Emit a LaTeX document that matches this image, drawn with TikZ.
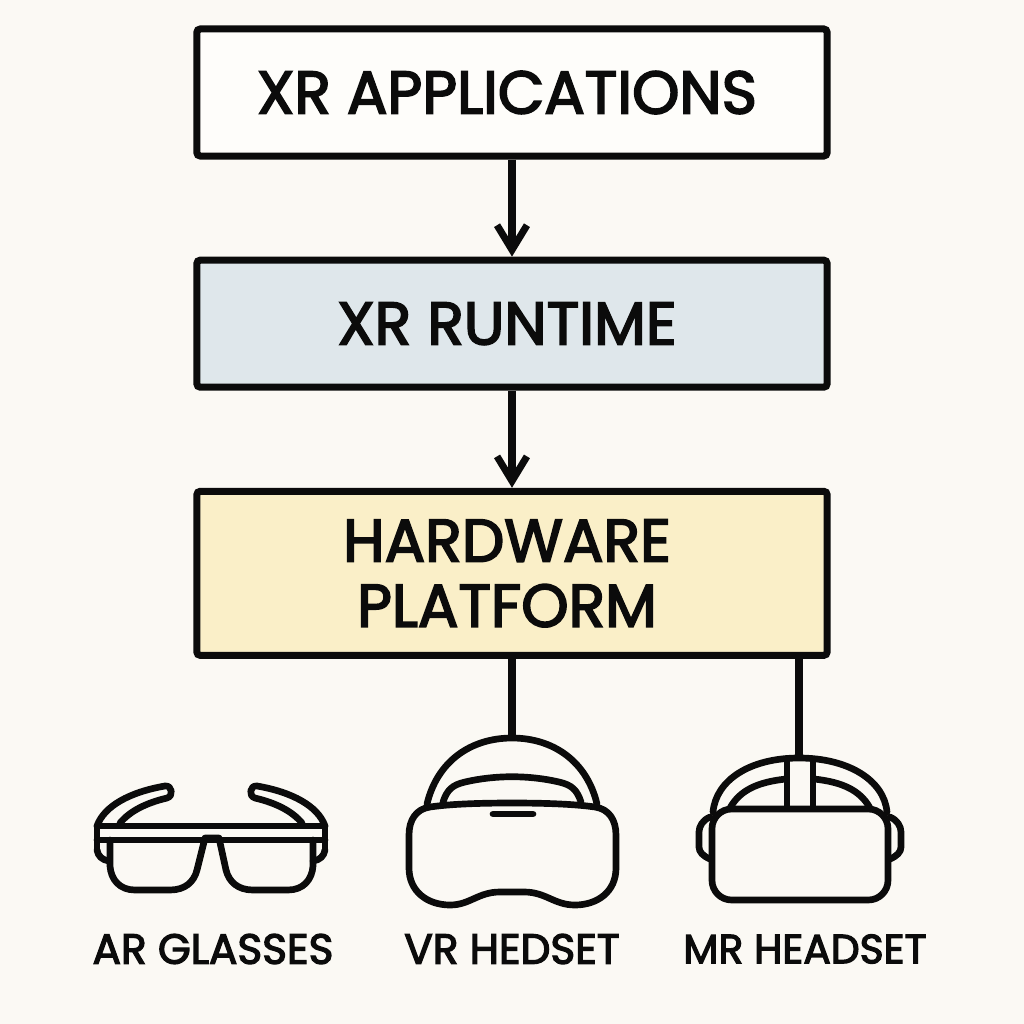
\documentclass[tikz,border=0pt]{standalone}
\usepackage{xcolor}
\usepackage{fontspec}
\setmainfont{Poppins}[FakeBold=3]
\usepackage{tikz}
\usetikzlibrary{arrows.meta, positioning}
\definecolor{paper}{HTML}{FBF9F4}
\definecolor{appfill}{HTML}{FEFDFA}
\definecolor{runfill}{HTML}{DFE7EB}
\definecolor{hwfill}{HTML}{FAEFC8}
\definecolor{ink}{HTML}{0B0B0B}
\newcommand{\nudge}{\hspace*{1mm}}

\begin{document}
\begin{tikzpicture}[
  x=0.01cm, y=-0.01cm,
  layer/.style={draw=ink, line width=2pt, rounded corners=1pt, minimum width=6.3cm, align=center, font=\fontsize{17.1}{18.5}\selectfont, text=ink, inner sep=0pt},
  flow/.style={draw=ink, line width=2pt, -{Straight Barb[length=7pt, width=8.5pt, line width=2pt]}},
  wire/.style={draw=ink, line width=2pt},
  icon/.style={draw=ink, line width=1.9pt, line cap=round, line join=round},
  tag/.style={font=\fontsize{12}{14}\selectfont, text=ink, inner sep=0pt}
]
  \fill[paper] (0,0) rectangle (1024,1024);
  \useasboundingbox (0,0) rectangle (1024,1024);

  \node[layer, fill=appfill, minimum height=1.27cm] (apps) at (512,92.5) {XR APPLICATIONS\nudge};
  \node[layer, fill=runfill, minimum height=1.27cm, below=0.97cm of apps] (runtime) {XR RUNTIME\nudge};
  \node[layer, fill=hwfill, minimum height=1.64cm, below=0.97cm of runtime] (hardware) {HARDWARE\nudge\\PLATFORM\nudge};

  \node[tag] (argl) at (213,949) {AR GLASSES};
  \node[tag] (vrhs) at (512,949) {VR HEDSET};
  \node[tag, font=\fontsize{11.6}{14}\selectfont] (mrhs) at (805,949) {MR HEADSET};

  \coordinate (vrtop) at (512,738);
  \coordinate (mrtop) at (799,758);

  \draw[flow] (apps) -- (runtime);
  \draw[flow] (runtime) -- (hardware);
  \draw[wire] (hardware.south -| vrtop) -- (vrtop);
  \draw[wire] (hardware.south -| mrtop) -- (mrtop);

  % glasses
  \draw[icon] (97,826) -- (325,826) (97,840) -- (325,840) (97,826) -- (97,850) (325,826) -- (325,850);
  \draw[icon] (97,826) .. controls (104,806) and (130,792) .. (165,786) .. controls (172,785) and (174,796) .. (167,798) .. controls (146,803) and (130,811) .. (120,823);
  \draw[icon] (325,826) .. controls (318,806) and (292,792) .. (257,786) .. controls (250,785) and (248,796) .. (255,798) .. controls (276,803) and (292,811) .. (302,823);
  \draw[icon] (97,850) .. controls (98,856) and (102,860) .. (109,861) (325,850) .. controls (324,856) and (320,860) .. (313,861);
  \draw[icon] (110,840) -- (110,866) .. controls (111,880) and (120,890) .. (135,890) -- (170,890) .. controls (185,890) and (194,882) .. (197,870) -- (205,838) -- (219,838) -- (226,870) .. controls (229,882) and (238,890) .. (253,890) -- (288,890) .. controls (303,890) and (312,880) .. (313,866) -- (313,840);

  % vr headset
  \draw[icon] (427,804) .. controls (437,762) and (470,738) .. (512,738) .. controls (554,738) and (587,762) .. (597,804);
  \draw[icon] (443,802) .. controls (447,790) and (452,785) .. (465,782) .. controls (495,775) and (529,775) .. (559,782) .. controls (572,785) and (577,790) .. (581,802);
  \draw[icon] (512,803) .. controls (480,803) and (450,804) .. (430,807) .. controls (416,809) and (409,820) .. (409,835) -- (409,868) .. controls (409,892) and (428,905) .. (450,905) .. controls (470,905) and (478,892) .. (500,892) -- (524,892) .. controls (546,892) and (554,905) .. (575,905) .. controls (597,905) and (616,892) .. (616,868) -- (616,835) .. controls (616,820) and (609,809) .. (595,807) .. controls (574,804) and (544,803) .. (512,803) -- cycle;
  \draw[icon] (493,814) -- (533,814);

  % mr headset
  \draw[icon] (713,812) .. controls (716,780) and (750,758) .. (799,758) .. controls (848,758) and (884,780) .. (887,812);
  \draw[icon] (730,808) .. controls (740,790) and (758,782) .. (786,779) (870,808) .. controls (860,790) and (842,782) .. (814,779);
  \draw[icon] (787,760) -- (787,808) (813,760) -- (813,808);
  \draw[icon, rounded corners=20pt*0.28] (712,809) rectangle (888,900);
  \draw[icon] (710,817) .. controls (703,820) and (699,826) .. (699,832) -- (699,847) .. controls (699,852) and (703,856) .. (710,859);
  \draw[icon] (890,817) .. controls (897,820) and (901,826) .. (901,832) -- (901,847) .. controls (901,852) and (897,856) .. (890,859);
\end{tikzpicture}
\end{document}
